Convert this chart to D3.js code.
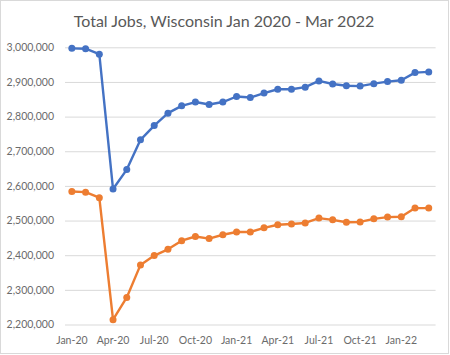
<!DOCTYPE html>
<html><head><meta charset="utf-8">
<script src="https://cdn.jsdelivr.net/npm/d3@7/dist/d3.min.js"></script>
<style>body{margin:0;background:#fff;}svg{display:block;font-family:Lato,"Open Sans",sans-serif;}</style>
</head><body><svg id="c" width="450" height="355"></svg>
<script>
const months = ["Jan-20","Feb-20","Mar-20","Apr-20","May-20","Jun-20","Jul-20","Aug-20","Sep-20","Oct-20","Nov-20","Dec-20",
"Jan-21","Feb-21","Mar-21","Apr-21","May-21","Jun-21","Jul-21","Aug-21","Sep-21","Oct-21","Nov-21","Dec-21","Jan-22","Feb-22","Mar-22"];
const totalJobs = [2997000,2996000,2980000,2591000,2647000,2733000,2774000,2810000,2831000,2842000,2835000,2842000,
2858000,2855000,2868000,2879000,2879000,2885000,2903000,2894000,2889000,2888000,2895000,2901000,2905000,2927000,2929000];
const privateJobs = [2584000,2582000,2566000,2214000,2278000,2372000,2399000,2417000,2442000,2454000,2448000,2459000,
2467000,2467000,2479000,2488000,2490000,2493000,2507000,2502000,2495000,2496000,2505000,2510000,2511000,2536000,2536000];
const yTicks = [2200000,2300000,2400000,2500000,2600000,2700000,2800000,2900000,3000000];
const xTickLabels = ["Jan-20","Apr-20","Jul-20","Oct-20","Jan-21","Apr-21","Jul-21","Oct-21","Jan-22"];
const title = "Total Jobs, Wisconsin Jan 2020 - Mar 2022";

(function(){
const svg = d3.select("#c");
svg.append("rect").attr("x",0.5).attr("y",0.5).attr("width",448).attr("height",353)
  .attr("fill","#fff").attr("stroke","#d9d9d9");

const pl = 65, pr = 435.6, pt = 47.3, pb = 324.5;
const x = d3.scaleBand().domain(months).range([pl, pr]);
const y = d3.scaleLinear().domain([2200000, 3000000]).range([pb, pt]);
const cx = m => x(m) + x.bandwidth()/2;

svg.append("text").attr("x", 224).attr("y", 27).attr("text-anchor","middle")
  .attr("font-size", 16).attr("fill","#595959").text(title);

const yAxis = d3.axisLeft(y).tickValues(yTicks).tickSize(-(pr-pl)).tickFormat(d3.format(","));
const gy = svg.append("g").attr("transform",`translate(${pl},0)`).call(yAxis);
gy.select(".domain").remove();
gy.selectAll(".tick line").attr("stroke","#d9d9d9").attr("stroke-width",1);
gy.selectAll(".tick text").attr("x",-11).attr("fill","#6b6b6b").attr("font-size",10.5)
  .attr("font-family","Lato,'Open Sans',sans-serif");

const xAxis = d3.axisBottom(x).tickValues(xTickLabels).tickSize(0);
const gx = svg.append("g").attr("transform",`translate(0,${pb})`).call(xAxis);
gx.select(".domain").remove();
gx.selectAll(".tick text").attr("dy",0).attr("y",19).attr("fill","#6b6b6b").attr("font-size",10.5)
  .attr("font-family","Lato,'Open Sans',sans-serif");

const series = [{vals: totalJobs, color:"#4472C4"},{vals: privateJobs, color:"#ED7D31"}];
const line = d3.line().x((d,i)=>cx(months[i])).y(d=>y(d));
series.forEach(s=>{
  svg.append("path").datum(s.vals).attr("d",line).attr("fill","none")
    .attr("stroke",s.color).attr("stroke-width",2.4).attr("stroke-linejoin","round");
  svg.append("g").selectAll("circle").data(s.vals).join("circle")
    .attr("cx",(d,i)=>cx(months[i])).attr("cy",d=>y(d)).attr("r",3.5).attr("fill",s.color);
});
})();
</script></body></html>
